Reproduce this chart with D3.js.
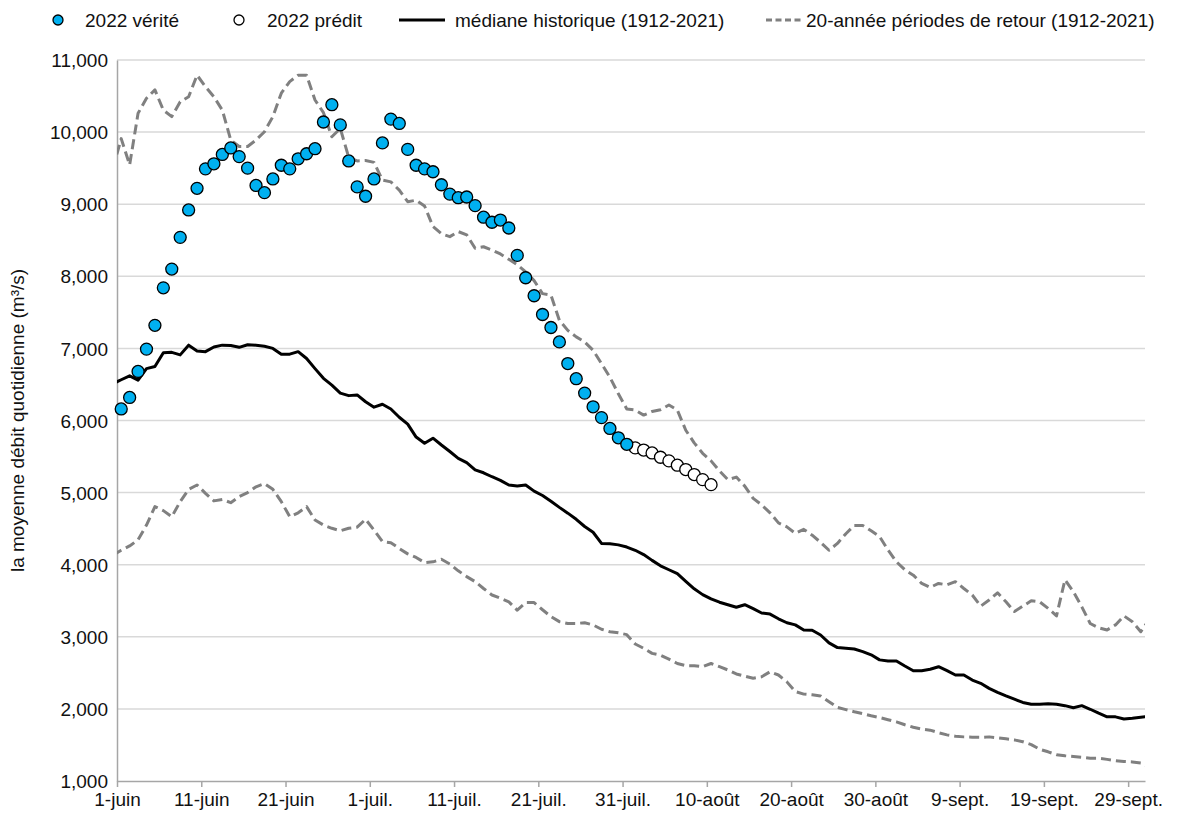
<!DOCTYPE html>
<html lang="fr">
<head>
  <meta charset="UTF-8" />
  <title>Débit quotidien 2022</title>
  <script src="https://d3js.org/d3.v7.min.js"></script>
  <style>
    body {
      margin: 0;
      background: #fff;
      font-family: "Liberation Sans", Arial, sans-serif;
    }
    svg text {
      fill: #111;
      font-size: 19px;
    }
    .grid line {
      stroke: #d9d9d9;
      stroke-width: 1.5px;
    }
  </style>
</head>
<body>
  <svg width="1186" height="818"></svg>

  <script>
    // x tick labels, every 10 days from 1 June
    const tickLabels = ["1-juin", "11-juin", "21-juin", "1-juil.", "11-juil.", "21-juil.",
      "31-juil.", "10-août", "20-août", "30-août", "9-sept.", "19-sept.", "29-sept."];
    const yTicks = [1000, 2000, 3000, 4000, 5000, 6000, 7000, 8000, 9000, 10000, 11000];

    // 2022 observed, 1 June .. 31 July
    const trueVals = [
      6160, 6320, 6680, 6990, 7320, 7840, 8100, 8540, 8920, 9220,
      9490, 9560, 9690, 9780, 9660, 9500, 9260, 9160, 9350, 9540,
      9490, 9630, 9700, 9770, 10140, 10380, 10100, 9600, 9240, 9110,
      9350, 9850, 10180, 10120, 9760, 9540, 9490, 9450, 9270, 9140,
      9090, 9100, 8980, 8820, 8750, 8780, 8670, 8290, 7980, 7730,
      7470, 7290, 7090, 6790, 6580, 6380, 6190, 6040, 5890, 5760,
      5670
    ];
    // 2022 forecast, 1 .. 10 August
    const predVals = [5620, 5590, 5550, 5490, 5440, 5380, 5320, 5250, 5180, 5110];

    // historical series, 31 May .. 1 Oct
    const medianVals = [
      6510, 6565,
      6620, 6560, 6720, 6750, 6940, 6945, 6910, 7045, 6965, 6955,
      7020, 7045, 7040, 7015, 7050, 7045, 7030, 7000, 6920, 6920,
      6955, 6860, 6720, 6585, 6490, 6380, 6345, 6355, 6260, 6185,
      6225, 6160, 6045, 5950, 5770, 5685, 5755, 5660, 5570, 5475,
      5415, 5315, 5275, 5220, 5170, 5105, 5090, 5105, 5020, 4960,
      4880, 4795, 4715, 4630, 4530, 4450, 4295, 4290, 4275, 4245,
      4200, 4140, 4060, 3985, 3930, 3875, 3770, 3665, 3585, 3525,
      3480, 3445, 3410, 3445, 3390, 3330, 3315, 3250, 3195, 3165,
      3095, 3090, 3025, 2915, 2850, 2840, 2830, 2795, 2750, 2680,
      2665, 2665, 2595, 2530, 2530, 2550, 2585, 2530, 2470, 2470,
      2400, 2355, 2285, 2230, 2180, 2135, 2090, 2065, 2065, 2070,
      2065, 2045, 2015, 2045, 1995, 1940, 1890, 1890, 1860, 1870,
      1885, 1898
    ];
    const upperVals = [
      9490, 9910,
      9545, 10260, 10470, 10585, 10305, 10215, 10420, 10490, 10790, 10630,
      10490, 10305, 9890, 9800, 9800, 9890, 10005, 10215, 10540, 10700,
      10790, 10790, 10445, 10270, 9935, 10050, 9650, 9600, 9605, 9580,
      9335, 9310, 9195, 9035, 9055, 8975, 8690, 8590, 8550, 8620,
      8575, 8390, 8410, 8365, 8310, 8235, 8160, 8060, 7940, 7760,
      7740, 7390, 7250, 7160, 7090, 6975, 6790, 6600, 6370, 6160,
      6145, 6075, 6125, 6150, 6215, 6145, 5865, 5690, 5545, 5440,
      5300, 5180, 5215, 5090, 4920, 4830, 4720, 4580, 4525, 4435,
      4490, 4410, 4310, 4200, 4295, 4430, 4545, 4545, 4470, 4390,
      4205, 4040, 3930, 3855, 3740, 3685, 3740, 3720, 3765, 3670,
      3580, 3425, 3510, 3610, 3485, 3350, 3425, 3500, 3485, 3395,
      3290, 3790, 3625, 3415, 3185, 3125, 3095, 3165, 3290, 3210,
      3070, 3240
    ];
    const lowerVals = [
      4130, 4200,
      4260, 4345, 4550, 4805, 4750, 4665, 4875, 5045, 5105, 4990,
      4885, 4905, 4860, 4945, 5000, 5080, 5125, 5045, 4875, 4665,
      4720, 4805, 4620, 4550, 4505, 4470, 4505, 4520, 4630, 4480,
      4320, 4305, 4225, 4150, 4100, 4030, 4040, 4075, 4010, 3915,
      3835, 3765, 3670, 3580, 3535, 3485, 3370, 3475, 3475, 3375,
      3280, 3210, 3185, 3185, 3195, 3165, 3105, 3070, 3055, 3030,
      2900, 2840, 2770, 2745, 2690, 2630, 2600, 2600, 2585, 2630,
      2585, 2540, 2485, 2455, 2425, 2445, 2515, 2470, 2375, 2240,
      2205, 2195, 2180, 2100, 2020, 1990, 1960, 1935, 1905, 1880,
      1850, 1820, 1780, 1745, 1720, 1705, 1670, 1640, 1620, 1612,
      1608, 1606, 1612, 1600, 1585, 1570, 1545, 1505, 1440, 1405,
      1365, 1350, 1340, 1330, 1315, 1315, 1300, 1282, 1270, 1265,
      1250, 1198
    ];

    const svg = d3.select("svg");
    const plotLeft = 117, plotRight = 1145, plotTop = 60, plotBottom = 781;

    // day 0 = 1 June, each day is one slot, points sit in the middle of it
    const x = d3.scaleLinear().domain([0, 122]).range([plotLeft, plotRight]);
    const y = d3.scaleLinear().domain([1000, 11000]).range([plotBottom, plotTop]);

    svg.append("clipPath").attr("id", "plot-clip")
      .append("rect")
      .attr("x", plotLeft).attr("y", plotTop - 10)
      .attr("width", plotRight - plotLeft).attr("height", plotBottom - plotTop + 20);

    // gridlines
    svg.append("g").attr("class", "grid")
      .selectAll("line")
      .data(yTicks.slice(1))
      .join("line")
      .attr("x1", plotLeft).attr("x2", plotRight)
      .attr("y1", d => y(d)).attr("y2", d => y(d));

    // y axis
    const yAxis = svg.append("g")
      .attr("transform", `translate(${plotLeft},0)`)
      .call(d3.axisLeft(y).tickValues(yTicks).tickFormat(d3.format(",")).tickSize(0).tickPadding(9));
    yAxis.select(".domain").attr("stroke", "#a6a6a6").attr("stroke-width", 1.5);
    yAxis.selectAll("text").attr("font-family", null).attr("font-size", null).attr("dy", "0.35em");

    // x axis
    const xAxis = svg.append("g")
      .attr("transform", `translate(0,${plotBottom})`)
      .call(d3.axisBottom(x)
        .tickValues(d3.range(0, 121, 10))
        .tickFormat((d, i) => tickLabels[i])
        .tickSizeInner(6).tickSizeOuter(0).tickPadding(6));
    xAxis.select(".domain").attr("stroke", "#a6a6a6").attr("stroke-width", 1.5);
    xAxis.selectAll(".tick line").attr("stroke", "#a6a6a6").attr("stroke-width", 1.5);
    xAxis.selectAll("text").attr("font-family", null).attr("font-size", null);

    // y axis title
    svg.append("text")
      .attr("transform", `translate(24,${(plotTop + plotBottom) / 2}) rotate(-90)`)
      .attr("text-anchor", "middle")
      .text("la moyenne débit quotidienne (m³/s)");

    // lines (first value is 31 May)
    const line = d3.line()
      .x((d, i) => x(i - 1 + 0.5))
      .y(d => y(d));

    const lines = svg.append("g").attr("clip-path", "url(#plot-clip)");
    [lowerVals, upperVals].forEach(vals => {
      lines.append("path")
        .attr("d", line(vals))
        .attr("fill", "none")
        .attr("stroke", "#808080")
        .attr("stroke-width", 3)
        .attr("stroke-dasharray", "10,5")
        .attr("stroke-linejoin", "round");
    });
    lines.append("path")
      .attr("d", line(medianVals))
      .attr("fill", "none")
      .attr("stroke", "#000")
      .attr("stroke-width", 3)
      .attr("stroke-linejoin", "round");

    // dots
    svg.append("g").selectAll("circle")
      .data(predVals)
      .join("circle")
      .attr("cx", (d, i) => x(trueVals.length + i + 0.5))
      .attr("cy", d => y(d))
      .attr("r", 6)
      .attr("fill", "#fff")
      .attr("stroke", "#000")
      .attr("stroke-width", 1.3);

    svg.append("g").selectAll("circle")
      .data(trueVals)
      .join("circle")
      .attr("cx", (d, i) => x(i + 0.5))
      .attr("cy", d => y(d))
      .attr("r", 6)
      .attr("fill", "#00b0f0")
      .attr("stroke", "#000")
      .attr("stroke-width", 1.3);

    // legend
    const legend = svg.append("g");
    const ly = 20;
    legend.append("circle").attr("cx", 58).attr("cy", ly).attr("r", 5)
      .attr("fill", "#00b0f0").attr("stroke", "#000").attr("stroke-width", 1.3);
    legend.append("text").attr("x", 85).attr("y", ly).attr("dy", "0.35em").text("2022 vérité");
    legend.append("circle").attr("cx", 239).attr("cy", ly).attr("r", 5)
      .attr("fill", "#fff").attr("stroke", "#000").attr("stroke-width", 1.3);
    legend.append("text").attr("x", 267).attr("y", ly).attr("dy", "0.35em").text("2022 prédit");
    legend.append("line").attr("x1", 399).attr("x2", 445).attr("y1", ly).attr("y2", ly)
      .attr("stroke", "#000").attr("stroke-width", 3);
    legend.append("text").attr("x", 455).attr("y", ly).attr("dy", "0.35em").text("médiane historique (1912-2021)");
    legend.append("line").attr("x1", 766).attr("x2", 803).attr("y1", ly).attr("y2", ly)
      .attr("stroke", "#808080").attr("stroke-width", 3).attr("stroke-dasharray", "6,3.5");
    legend.append("text").attr("x", 806).attr("y", ly).attr("dy", "0.35em").text("20-année périodes de retour (1912-2021)");
  </script>
</body>
</html>
